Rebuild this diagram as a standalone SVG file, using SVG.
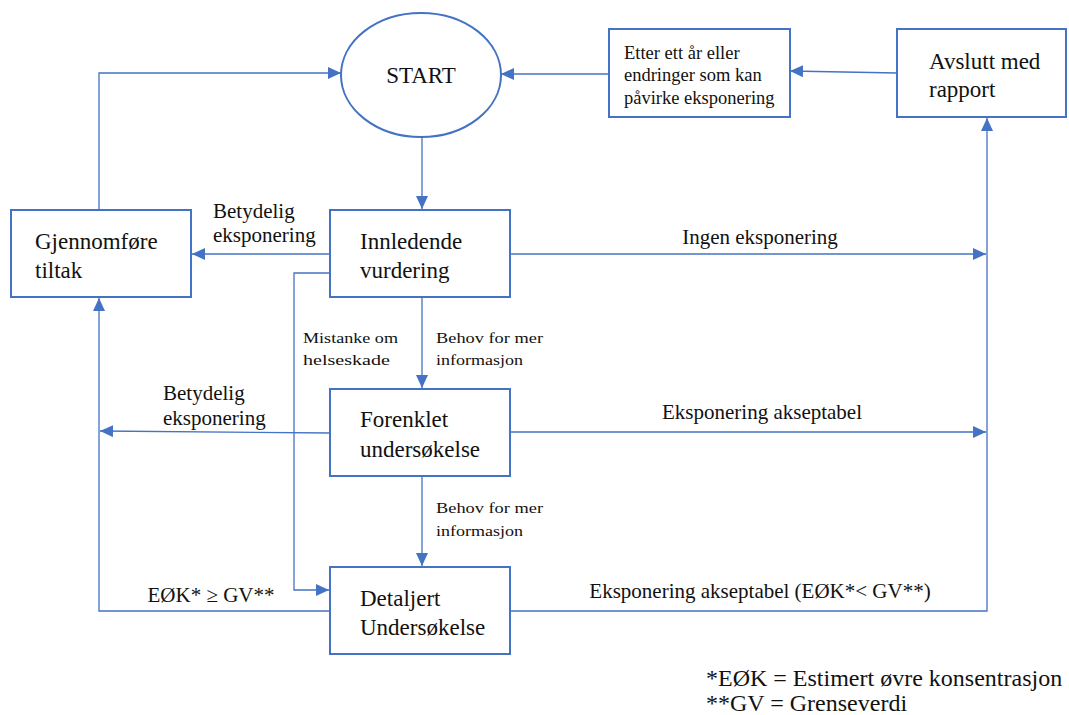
<svg xmlns="http://www.w3.org/2000/svg" width="1069" height="715" viewBox="0 0 1069 715" font-family="'Liberation Serif', 'DejaVu Serif', serif">
<style>
.n{fill:#fff;stroke:#4472C4;stroke-width:2}
.c{fill:none;stroke:#4472C4;stroke-width:1.3}
text{font-family:'Liberation Serif','DejaVu Serif',serif;fill:#111}
.big{font-size:23px}
.mid{font-size:21px}
.sm{font-size:15px}
.et{font-size:18.5px}
.fn{font-size:24px}
</style>
<defs>
<marker id="a" markerUnits="userSpaceOnUse" markerWidth="14" markerHeight="12" refX="13" refY="6" orient="auto">
<path d="M0,0 L13,6 L0,12 Z" fill="#4472C4"/>
</marker>
</defs>
<rect width="1069" height="715" fill="#fff"/>
<g id="connectors">
<path class="c" d="M897,73 L790,71" marker-end="url(#a)"/>
<path class="c" d="M609,74 L501,74" marker-end="url(#a)"/>
<path class="c" d="M99,210 L99,73 L341,73" marker-end="url(#a)"/>
<path class="c" d="M422,137 L422,209" marker-end="url(#a)"/>
<path class="c" d="M330,254 L192,254" marker-end="url(#a)"/>
<path class="c" d="M510,254 L986,254" marker-end="url(#a)"/>
<path class="c" d="M422,297 L422,388" marker-end="url(#a)"/>
<path class="c" d="M330,273 L294,273 L294,590 L329,590" marker-end="url(#a)"/>
<path class="c" d="M330,433 L100,431" marker-end="url(#a)"/>
<path class="c" d="M510,432 L986,432" marker-end="url(#a)"/>
<path class="c" d="M422,476 L422,566" marker-end="url(#a)"/>
<path class="c" d="M330,611 L99,611 L99,298" marker-end="url(#a)"/>
<path class="c" d="M510,611 L987,611 L987,118" marker-end="url(#a)"/>
<text class="mid" x="213" y="218">Betydelig</text>
<text class="mid" x="213" y="242">eksponering</text>
<text class="mid" x="760" y="244" text-anchor="middle">Ingen eksponering</text>
<text class="sm" x="303" y="343" textLength="95" lengthAdjust="spacingAndGlyphs">Mistanke om</text>
<text class="sm" x="303" y="365" textLength="87" lengthAdjust="spacingAndGlyphs">helseskade</text>
<text class="sm" x="436" y="343" textLength="107" lengthAdjust="spacingAndGlyphs">Behov for mer</text>
<text class="sm" x="436" y="365" textLength="87" lengthAdjust="spacingAndGlyphs">informasjon</text>
<text class="mid" x="163" y="400">Betydelig</text>
<text class="mid" x="163" y="425">eksponering</text>
<text class="mid" x="762" y="419" text-anchor="middle">Eksponering akseptabel</text>
<text class="sm" x="436" y="513" textLength="107" lengthAdjust="spacingAndGlyphs">Behov for mer</text>
<text class="sm" x="436" y="536" textLength="87" lengthAdjust="spacingAndGlyphs">informasjon</text>
<text class="mid" x="211" y="602" text-anchor="middle">EØK* ≥ GV**</text>
<text class="mid" x="760" y="598" text-anchor="middle">Eksponering akseptabel (EØK*&lt; GV**)</text>
</g>
<g id="start">
<ellipse class="n" cx="421" cy="75" rx="80" ry="62"/>
<text class="big" x="421" y="83" text-anchor="middle">START</text>
</g>
<g id="etter">
<rect class="n" x="609" y="29" width="181" height="88"/>
<text class="et" x="624" y="59">Etter ett år eller</text>
<text class="et" x="624" y="81">endringer som kan</text>
<text class="et" x="624" y="104">påvirke eksponering</text>
</g>
<g id="avslutt">
<rect class="n" x="897" y="29" width="169" height="88"/>
<text class="big" x="929" y="69">Avslutt med</text>
<text class="big" x="929" y="97">rapport</text>
</g>
<g id="gjennomfore">
<rect class="n" x="11" y="210" width="180" height="87"/>
<text class="big" x="35" y="249">Gjennomføre</text>
<text class="big" x="35" y="278">tiltak</text>
</g>
<g id="innledende">
<rect class="n" x="330" y="210" width="180" height="87"/>
<text class="big" x="360" y="249">Innledende</text>
<text class="big" x="360" y="278">vurdering</text>
</g>
<g id="forenklet">
<rect class="n" x="330" y="389" width="180" height="87"/>
<text class="big" x="360" y="427">Forenklet</text>
<text class="big" x="360" y="457">undersøkelse</text>
</g>
<g id="detaljert">
<rect class="n" x="330" y="567" width="180" height="87"/>
<text class="big" x="360" y="606">Detaljert</text>
<text class="big" x="360" y="635">Undersøkelse</text>
</g>
<g id="footnotes">
<text class="fn" x="706" y="686">*EØK = Estimert øvre konsentrasjon</text>
<text class="fn" x="706" y="711">**GV = Grenseverdi</text>
</g>
</svg>
